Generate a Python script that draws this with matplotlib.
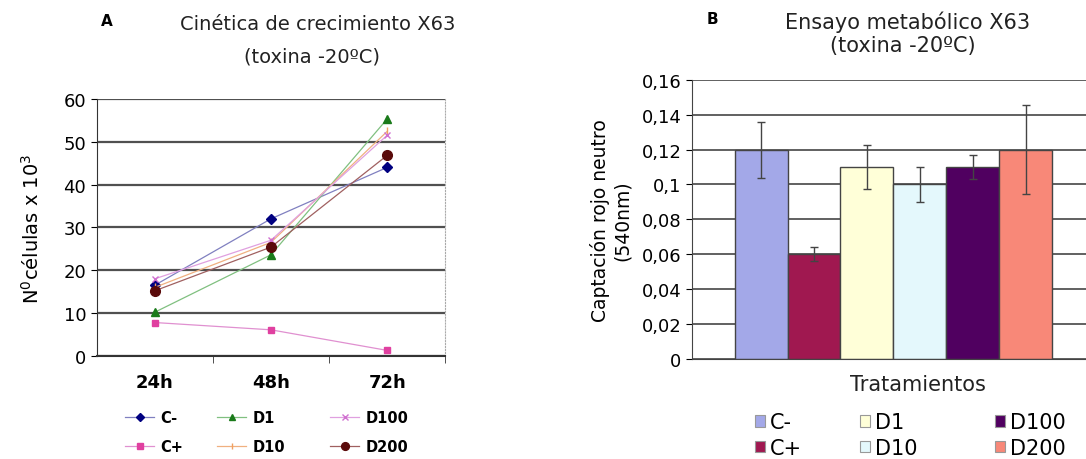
import matplotlib
matplotlib.use("Agg")
import matplotlib.pyplot as plt
from matplotlib.patches import Patch
from matplotlib.lines import Line2D
import numpy as np

# ---- data ----
times = ["24h", "48h", "72h"]
series_names = ["C-", "C+", "D1", "D10", "D100", "D200"]
cminus = [16.5, 32.0, 44.0]
cplus = [7.8, 6.1, 1.3]
d1 = [10.2, 23.6, 55.3]
d10 = [16.0, 26.5, 52.4]
d100 = [18.0, 27.0, 51.5]
d200 = [15.2, 25.4, 46.8]

treatments = ["C-", "C+", "D1", "D10", "D100", "D200"]
uptake = [0.12, 0.06, 0.11, 0.10, 0.11, 0.12]
uptake_err = [0.016, 0.004, 0.0125, 0.0103, 0.007, 0.0255]

plt.rcParams['font.family'] = ['DejaVu Sans']

W, H = 1086, 460
fig = plt.figure(figsize=(W / 100, H / 100), dpi=100)

# ---------------- Panel A ----------------
axA = fig.add_axes([0.089, 0.224, 0.321, 0.559])
line_styles = [
    (cminus, "#000080", "#8080c0", "D", 5),
    (cplus, "#e040a0", "#e090d0", "s", 5),
    (d1, "#1a7a1a", "#80c080", "^", 6),
    (d10, "#f0a060", "#f0b080", "|", 6),
    (d100, "#d070d0", "#e0a0e0", "x", 5),
    (d200, "#5a0a0a", "#a06060", "o", 7),
]
x = np.arange(len(times))
handles = []
for (vals, mc, lc, mk, ms), name in zip(line_styles, series_names):
    axA.plot(x, vals, color=lc, lw=0.9, marker=mk, ms=ms, mfc=mc, mec=mc, zorder=3)
    handles.append(Line2D([], [], color=lc, lw=0.9, marker=mk, ms=ms * 0.8, mfc=mc, mec=mc))

axA.set_xlim(-0.5, 2.5)
axA.set_ylim(0, 60)
axA.set_yticks(np.arange(0, 61, 10))
axA.yaxis.grid(True, color="#505050", lw=1.6)
axA.set_axisbelow(True)
axA.set_xticks(x)
axA.set_xticklabels(times, fontsize=13, fontweight="bold")
axA.tick_params(axis="x", length=0, pad=12)
axA.set_xticks([0.5, 1.5, 2.5], minor=True)
axA.tick_params(axis="x", which="minor", length=5, color="#333333")
axA.tick_params(axis="y", labelsize=13, length=4)
axA.spines["top"].set_visible(False)
axA.spines["right"].set_color("#aaaaaa")
axA.spines["right"].set_linestyle(":")
axA.spines["left"].set_color("#333333")
axA.spines["bottom"].set_color("#333333")
axA.spines["bottom"].set_linewidth(1.5)
axA.set_ylabel("N$^{0}$células x 10$^{3}$", fontsize=14, labelpad=15)

fig.text(107 / W, 1 - 22 / H, "A", fontsize=11, ha="center", va="center", fontweight="bold")
fig.text(318 / W, 1 - 24 / H, "Cinética de crecimiento X63", fontsize=14, ha="center", va="center", color="#222222")
fig.text(312 / W, 1 - 57 / H, "(toxina -20ºC)", fontsize=14, ha="center", va="center", color="#222222")

colsA = [118, 210, 323]
for i, cx in enumerate(colsA):
    fig.legend(handles[2 * i:2 * i + 2], series_names[2 * i:2 * i + 2], loc="center left",
               bbox_to_anchor=(cx / W, 1 - 433 / H), frameon=False, borderpad=0,
               handlelength=2.0, handletextpad=0.4, labelspacing=0.95,
               prop={"weight": "bold", "size": 10.5})

# ---------------- Panel B ----------------
bar_colors = ["#a3a8e8", "#a01850", "#ffffd8", "#e4f8fc", "#500060", "#f88878"]
axB = fig.add_axes([0.637, 0.217, 0.363, 0.6076])
xb = np.arange(len(treatments))
axB.bar(xb, uptake, width=1.0, color=bar_colors, edgecolor="#444444", lw=1.0, zorder=2,
        yerr=uptake_err, error_kw=dict(ecolor="#444444", elinewidth=1.0, capsize=3, capthick=1.0))
axB.set_xlim(-1.31, 6.14)
axB.set_ylim(0, 0.16)
yt = np.arange(0, 0.161, 0.02)
axB.set_yticks(yt)
axB.set_yticklabels(["0"] + [("%g" % v).replace(".", ",") for v in yt[1:]], fontsize=13)
axB.yaxis.grid(True, color="#606060", lw=1.4)
axB.set_axisbelow(True)
axB.set_xticks([])
axB.tick_params(axis="y", length=4)
axB.spines["top"].set_visible(False)
axB.spines["right"].set_visible(False)
axB.spines["left"].set_color("#444444")
axB.spines["bottom"].set_color("#444444")
axB.set_ylabel("Captación rojo neutro\n(540nm)", fontsize=13.5, labelpad=7)

fig.text(712 / W, 1 - 20 / H, "B", fontsize=11, ha="center", va="center", fontweight="bold")
fig.text(908 / W, 1 - 22 / H, "Ensayo metabólico X63", fontsize=15, ha="center", va="center", color="#222222")
fig.text(903 / W, 1 - 46 / H, "(toxina -20ºC)", fontsize=15, ha="center", va="center", color="#222222")
fig.text(918 / W, 1 - 385 / H, "Tratamientos", fontsize=15, ha="center", va="center", color="#222222")

phandles = [Patch(facecolor=c, edgecolor="#999999", lw=0.8) for c in bar_colors]
colsB = [745, 850, 985]
for i, cx in enumerate(colsB):
    fig.legend(phandles[2 * i:2 * i + 2], treatments[2 * i:2 * i + 2], loc="center left",
               bbox_to_anchor=(cx / W, 1 - 436 / H), frameon=False, borderpad=0,
               handlelength=0.45, handleheight=0.45, handletextpad=0.25,
               labelspacing=0.25, fontsize=15)

fig.savefig("out.png", dpi=100)
